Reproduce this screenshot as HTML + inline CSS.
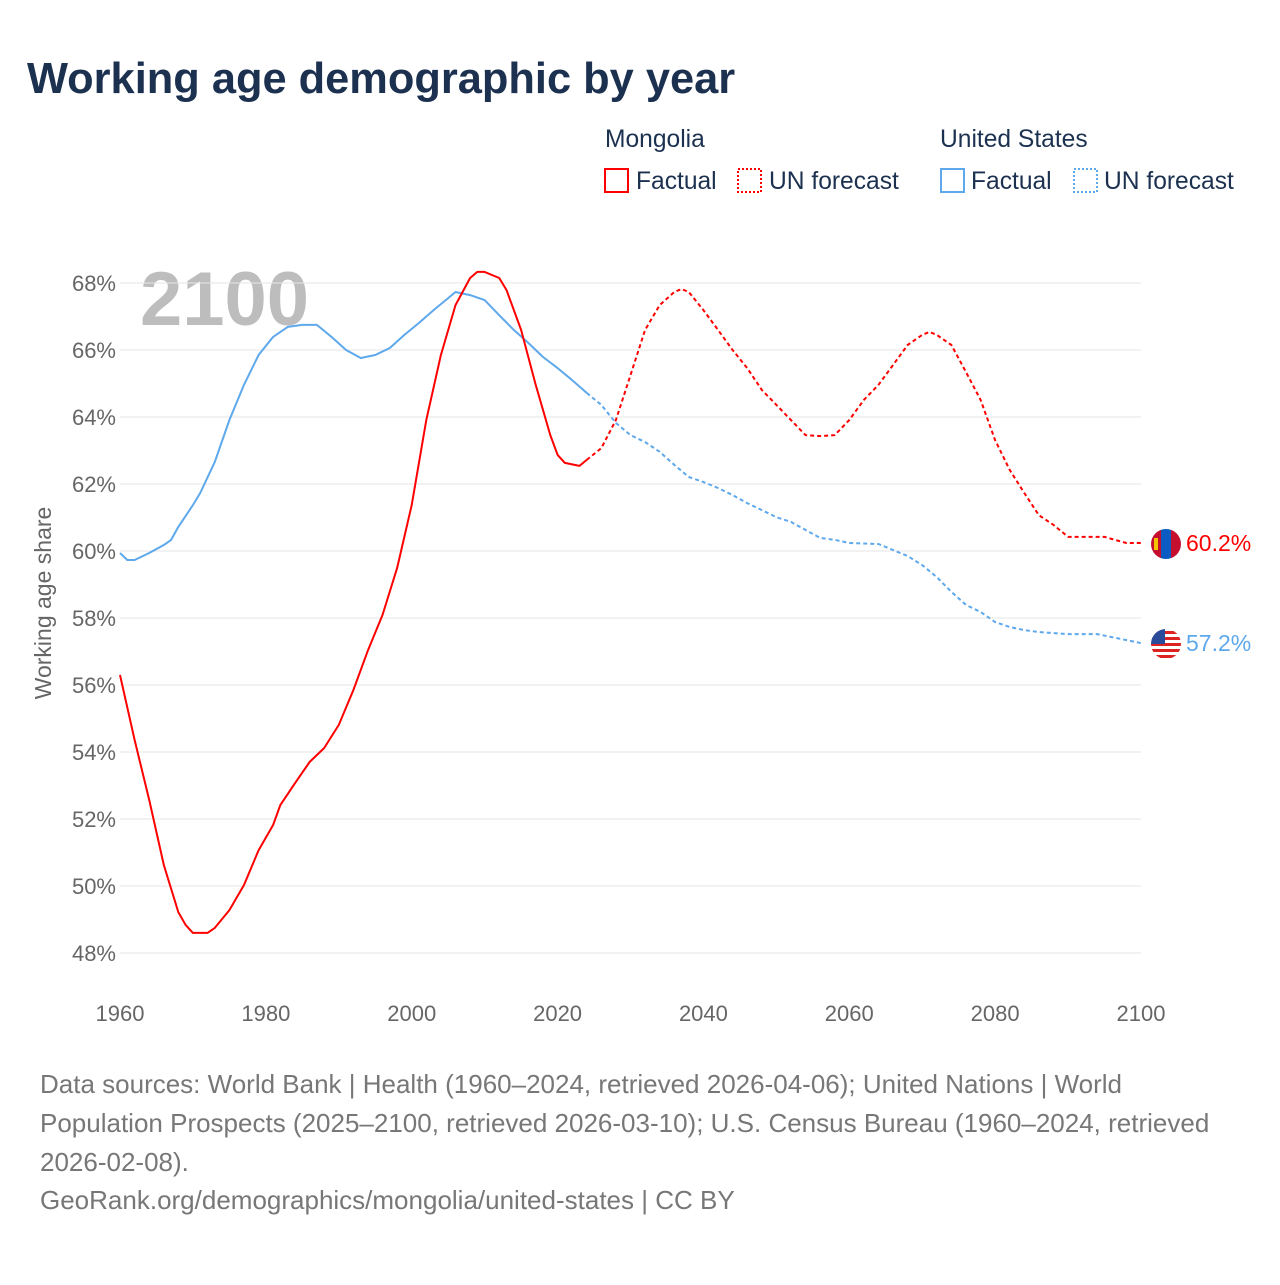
<!DOCTYPE html>
<html><head><meta charset="utf-8">
<style>
body{margin:0;background:#fff;width:1280px;height:1280px;overflow:hidden;font-family:"Liberation Sans",sans-serif;}
svg text{font-family:"Liberation Sans",sans-serif;}
</style></head><body>
<svg id="chart" width="1280" height="1280" viewBox="0 0 1280 1280">
<text x="27" y="93" font-size="43.4" font-weight="bold" fill="#1c3150">Working age demographic by year</text>
<g font-size="24.6">
<text x="605" y="147" fill="#1c3150">Mongolia</text>
<g><rect x="605" y="169" width="23" height="23" fill="none" stroke="#f00" stroke-width="2"/><text x="636" y="189" fill="#1c3150">Factual</text></g>
<g><rect x="738" y="169" width="23" height="23" fill="none" stroke="#f00" stroke-width="2" stroke-dasharray="2,2"/><text x="769" y="189" fill="#1c3150">UN forecast</text></g>
<text x="940" y="147" fill="#1c3150">United States</text>
<g><rect x="941" y="169" width="23" height="23" fill="none" stroke="#5ea8ec" stroke-width="2"/><text x="971" y="189" fill="#1c3150">Factual</text></g>
<g><rect x="1074" y="169" width="23" height="23" fill="none" stroke="#5ea8ec" stroke-width="2" stroke-dasharray="2,2"/><text x="1104" y="189" fill="#1c3150">UN forecast</text></g>
</g>
<text x="140" y="325" font-size="76" font-weight="bold" fill="#bdbdbd">2100</text>
<g id="grid"></g><g id="ticks"></g><g id="lines"></g>
<text transform="translate(51,603) rotate(-90)" text-anchor="middle" font-size="23" fill="#666">Working age share</text>
<g>
<g><clipPath id="cm"><circle cx="1166" cy="544" r="15"/></clipPath><g clip-path="url(#cm)"><rect x="1151" y="529" width="10" height="30" fill="#c4102e"/><rect x="1161" y="529" width="10" height="30" fill="#0b5cc2"/><rect x="1171" y="529" width="10" height="30" fill="#c4102e"/><rect x="1154" y="538" width="4" height="12" fill="#f5c400"/></g></g>
<text x="1186" y="551" font-size="23" fill="#f00">60.2%</text>
<g><clipPath id="cu"><circle cx="1166" cy="644" r="15"/></clipPath><g clip-path="url(#cu)"><rect x="1151" y="629" width="30" height="30" fill="#fff"/><rect x="1151" y="631" width="30" height="3" fill="#d22"/><rect x="1151" y="637" width="30" height="3" fill="#d22"/><rect x="1151" y="643" width="30" height="3" fill="#d22"/><rect x="1151" y="649" width="30" height="3" fill="#d22"/><rect x="1151" y="655" width="30" height="3" fill="#d22"/><rect x="1151" y="629" width="14" height="15" fill="#2a4a9a"/></g></g>
<text x="1186" y="651" font-size="23" fill="#5ea8ec">57.2%</text>
</g>
<g font-size="26" fill="#777">
<text x="40" y="1093">Data sources: World Bank | Health (1960–2024, retrieved 2026-04-06); United Nations | World</text>
<text x="40" y="1132">Population Prospects (2025–2100, retrieved 2026-03-10); U.S. Census Bureau (1960–2024, retrieved</text>
<text x="40" y="1171">2026-02-08).</text>
<text x="40" y="1209">GeoRank.org/demographics/mongolia/united-states | CC BY</text>
</g>
</svg>
<script>
const xTicks=[1960,1980,2000,2020,2040,2060,2080,2100];
const yTicks=[48,50,52,54,56,58,60,62,64,66,68];
const mnYears=[1960,1962,1964,1966,1968,1969,1970,1972,1973,1975,1977,1979,1981,1982,1984,1986,1988,1990,1992,1994,1996,1998,2000,2002,2004,2006,2008,2009,2010,2012,2013,2015,2017,2019,2020,2021,2023,2024];
const mnValues=[56.3,54.36,52.57,50.63,49.22,48.84,48.6,48.6,48.75,49.28,50.03,51.07,51.82,52.42,53.07,53.7,54.12,54.81,55.85,57.04,58.09,59.49,61.37,63.91,65.85,67.34,68.15,68.33,68.33,68.15,67.79,66.6,64.96,63.46,62.87,62.63,62.54,62.72];
const mnFYears=[2024,2026,2028,2030,2032,2034,2036,2037,2038,2040,2042,2044,2046,2048,2050,2052,2054,2056,2058,2060,2062,2064,2066,2068,2070,2071,2072,2074,2076,2078,2080,2082,2084,2086,2088,2090,2095,2098,2100];
const mnFValues=[62.72,63.07,63.91,65.25,66.6,67.34,67.73,67.82,67.73,67.19,66.6,66.0,65.46,64.81,64.36,63.91,63.46,63.43,63.46,63.91,64.51,64.96,65.55,66.15,66.45,66.54,66.45,66.15,65.34,64.51,63.31,62.42,61.73,61.07,60.78,60.42,60.42,60.24,60.24];
const usYears=[1960,1961,1962,1964,1966,1967,1968,1970,1971,1973,1975,1977,1979,1981,1983,1985,1987,1989,1991,1993,1995,1997,1999,2001,2003,2005,2006,2008,2010,2012,2014,2016,2018,2020,2022,2024];
const usValues=[59.94,59.73,59.73,59.94,60.18,60.33,60.72,61.37,61.73,62.66,63.91,64.96,65.85,66.39,66.69,66.75,66.75,66.39,66.0,65.76,65.85,66.06,66.45,66.81,67.19,67.55,67.73,67.64,67.49,67.04,66.6,66.21,65.79,65.46,65.1,64.72];
const usFYears=[2024,2026,2028,2030,2032,2034,2036,2038,2040,2042,2044,2046,2048,2050,2052,2054,2056,2058,2060,2064,2066,2068,2070,2072,2074,2076,2078,2080,2082,2084,2086,2090,2094,2096,2100];
const usFValues=[64.72,64.36,63.82,63.46,63.25,62.96,62.57,62.21,62.06,61.88,61.67,61.43,61.22,61.01,60.87,60.63,60.39,60.33,60.24,60.21,60.03,59.85,59.58,59.22,58.78,58.39,58.18,57.88,57.73,57.64,57.58,57.52,57.52,57.43,57.25];
const NS='http://www.w3.org/2000/svg';
const X=y=>120+(y-1960)*(1021/140);
const Y=v=>953-(v-48)*33.5;
const grid=document.getElementById('grid'),ticks=document.getElementById('ticks'),lines=document.getElementById('lines');
yTicks.forEach(t=>{
 const l=document.createElementNS(NS,'line');
 l.setAttribute('x1',120);l.setAttribute('x2',1141);l.setAttribute('y1',Y(t));l.setAttribute('y2',Y(t));
 l.setAttribute('stroke','#e6e6e6');l.setAttribute('stroke-width','1');
 
 
 grid.appendChild(l);
 const tx=document.createElementNS(NS,'text');
 tx.setAttribute('x',116);tx.setAttribute('y',Y(t)+8);tx.setAttribute('text-anchor','end');
 tx.setAttribute('font-size','22');tx.setAttribute('fill','#666');tx.textContent=t+'%';
 
 
 ticks.appendChild(tx);
});
xTicks.forEach(t=>{
 const tx=document.createElementNS(NS,'text');
 tx.setAttribute('x',X(t));tx.setAttribute('y',1021);tx.setAttribute('text-anchor','middle');
 tx.setAttribute('font-size','22');tx.setAttribute('fill','#666');tx.textContent=t;
 
 
 ticks.appendChild(tx);
});
function line(xs,vs,color,dash,name){
 const p=document.createElementNS(NS,'polyline');
 p.setAttribute('points',xs.map((y,i)=>X(y).toFixed(1)+','+Y(vs[i]).toFixed(1)).join(' '));
 p.setAttribute('fill','none');p.setAttribute('stroke',color);p.setAttribute('stroke-width','2');
 p.setAttribute('stroke-linejoin','round');
 if(dash)p.setAttribute('stroke-dasharray',dash);
 
 
 lines.appendChild(p);
}
line(usYears,usValues,'#5ea8ec',null,'us-factual-line');
line(usFYears,usFValues,'#5ea8ec','4,3','us-forecast-line');
line(mnYears,mnValues,'#f00',null,'mongolia-factual-line');
line(mnFYears,mnFValues,'#f00','4,3','mongolia-forecast-line');
</script>
</body></html>
